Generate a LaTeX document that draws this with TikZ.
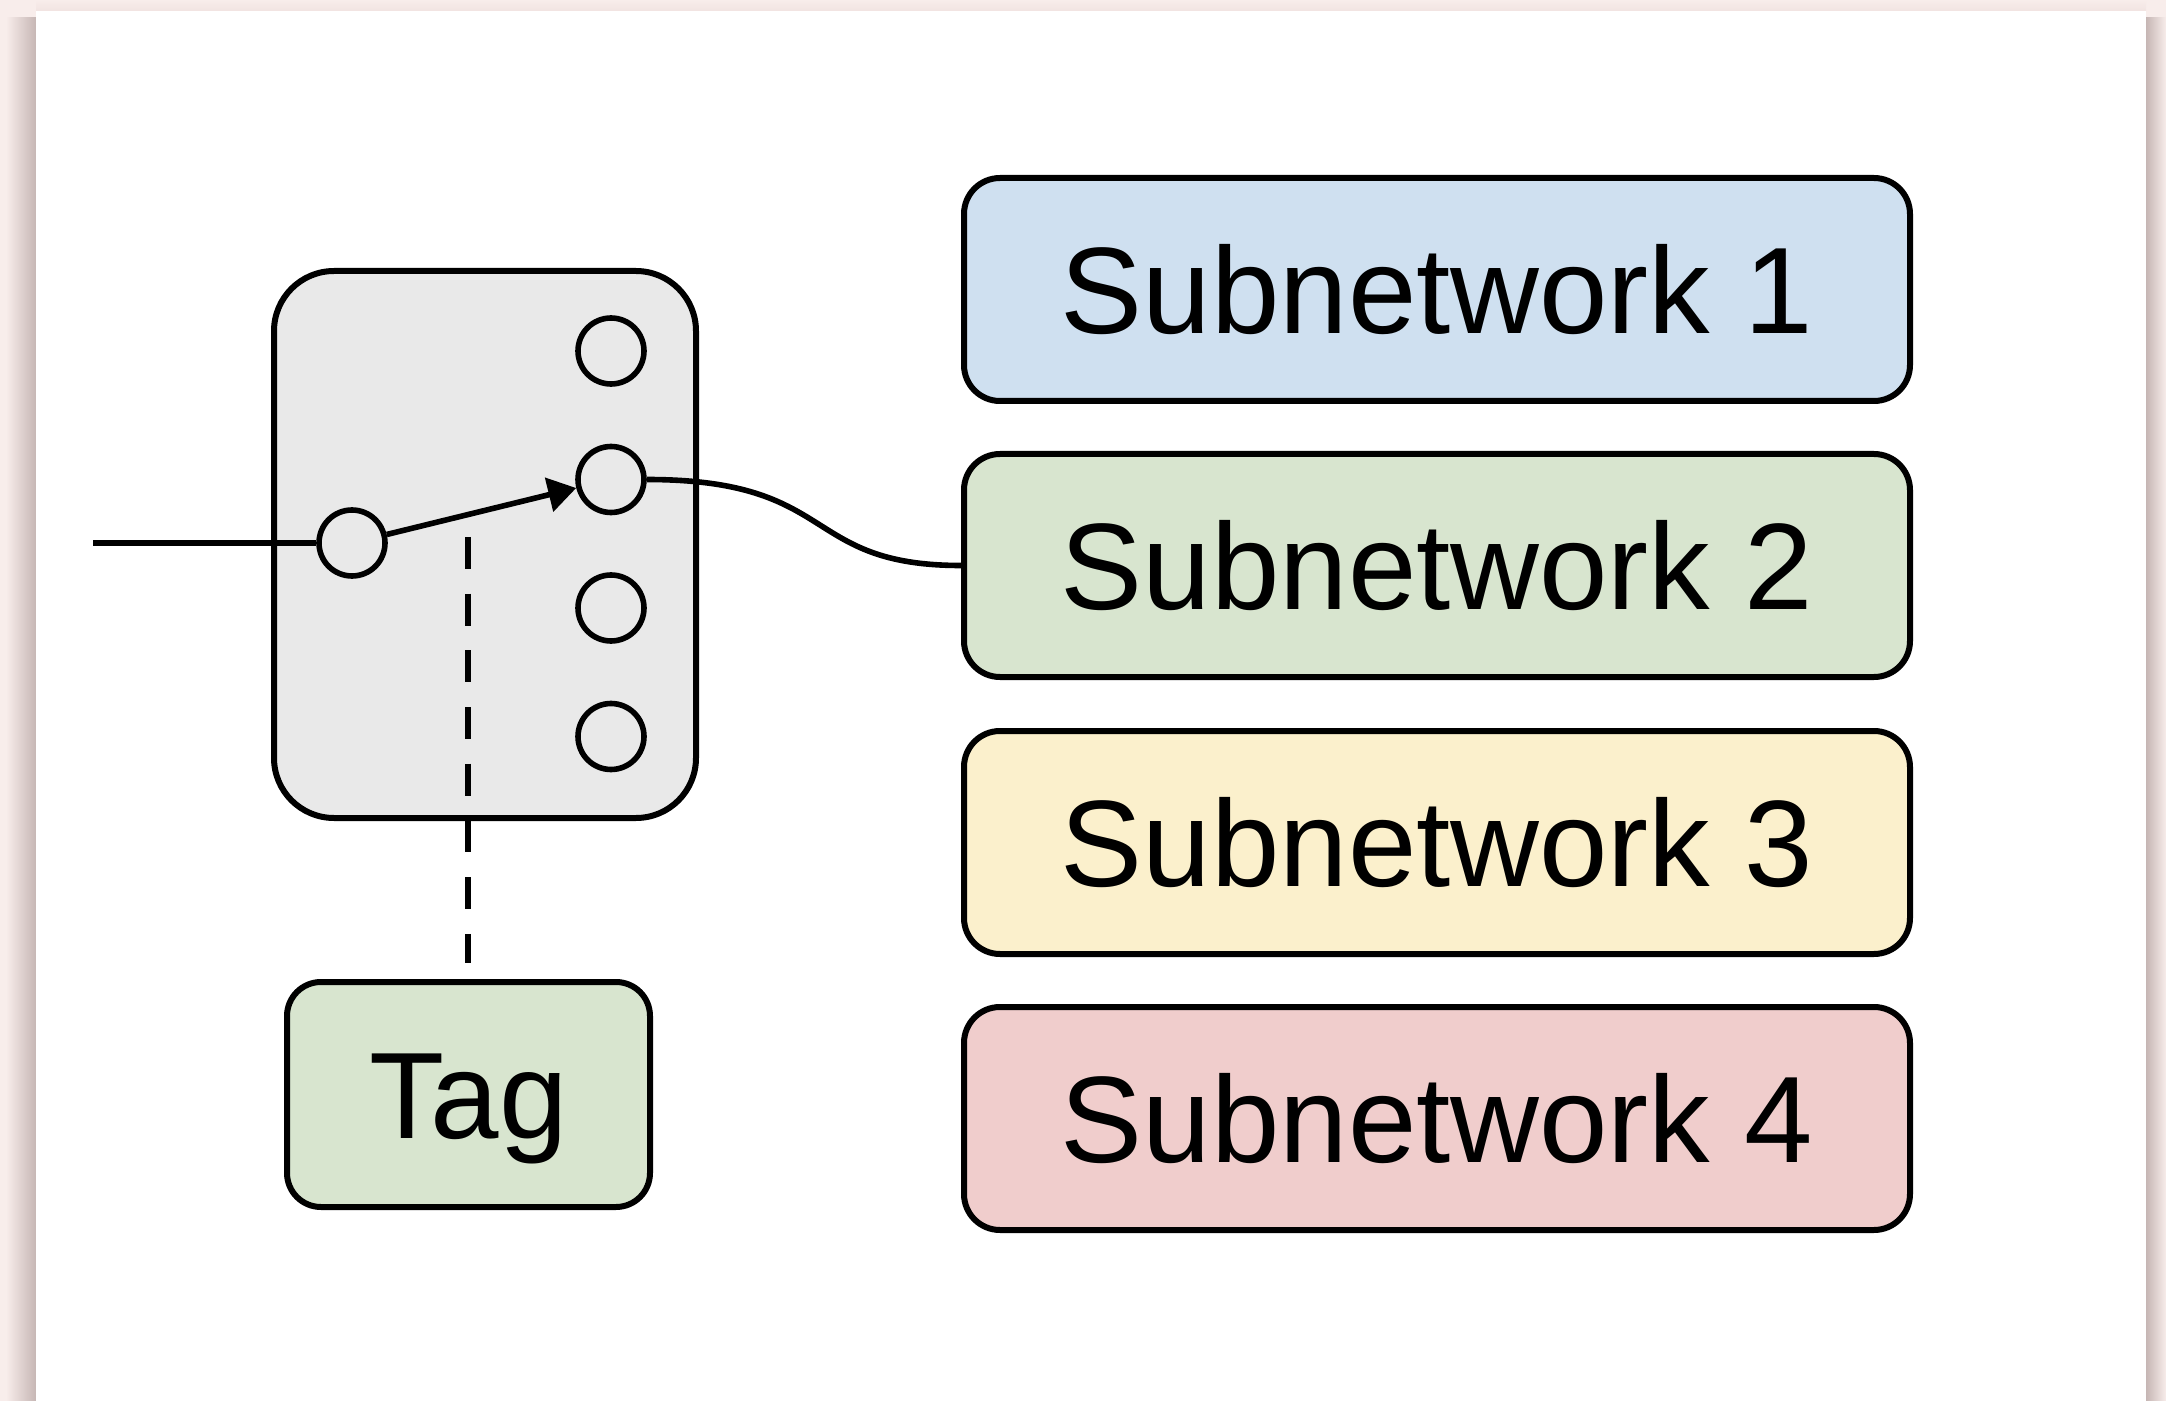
\documentclass[tikz,border=0pt]{standalone}
\usepackage{fontspec}
\setmainfont{Liberation Sans}
\usetikzlibrary{arrows.meta}

\definecolor{pagebg}{HTML}{F8EDEB}
\definecolor{shadowcol}{HTML}{C6B6B4}
\definecolor{shadowtop}{HTML}{F1E3E1}
\definecolor{switchfill}{HTML}{E9E9E9}
\definecolor{sna}{HTML}{CFE0F0}
\definecolor{snb}{HTML}{D8E5CF}
\definecolor{snc}{HTML}{FBF0CC}
\definecolor{snd}{HTML}{F0CDCC}

\tikzset{
  boxline/.style={draw=black, line width=1.5pt},
  switchbox/.style={boxline, fill=switchfill, rounded corners=15pt,
    minimum width=105.5pt, minimum height=136.75pt, inner sep=0pt},
  port/.style={circle, draw=black, line width=1.4pt, fill=switchfill,
    minimum size=16.5pt, inner sep=0pt},
  label text/.style={font=\fontsize{30.75pt}{36pt}\selectfont,
    text height=22pt, text depth=0pt, inner sep=0pt},
  subnet/.style={boxline, label text, rounded corners=9pt,
    minimum width=236.5pt, minimum height=55.75pt},
  tagbox/.style={boxline, label text, fill=snb, rounded corners=8.5pt,
    minimum width=90.75pt, minimum height=56.25pt},
  wire/.style={draw=black, line width=1.4pt},
  tagline/.style={wire, dash pattern=on 8pt off 6.17pt}
}

\begin{document}
\begin{tikzpicture}[x=0.25pt, y=-0.25pt]
  \useasboundingbox (0,0) rectangle (2166,1401);

  % page backdrop with a soft shadow around the white sheet
  \fill[pagebg] (0,0) rectangle (2166,1401);
  \shade[left color=pagebg, right color=shadowcol] (6,18) rectangle (36,1401);
  \shade[left color=shadowcol, right color=pagebg] (2146,18) rectangle (2166,1401);
  \shade[top color=pagebg, bottom color=shadowtop] (36,0) rectangle (2146,11);
  \fill[white] (36,11) rectangle (2146,1401);

  % switch with its input port and four output ports
  \node[switchbox] (sw) at (485,544.5) {};
  \node[port] (pin) at (352,543) {};
  \node[port] (p1) at (611,351) {};
  \node[port] (p2) at (611,479.5) {};
  \node[port] (p3) at (611,608) {};
  \node[port] (p4) at (611,736.5) {};

  % subnetworks
  \node[subnet, fill=sna] (s1) at (1437,289.5) {Subnetwork 1};
  \node[subnet, fill=snb] (s2) at (1437,565.5) {Subnetwork 2};
  \node[subnet, fill=snc] (s3) at (1437,842.5) {Subnetwork 3};
  \node[subnet, fill=snd] (s4) at (1437,1118.5) {Subnetwork 4};

  % tag that sets the switch position
  \node[tagbox] (tag) at (468.5,1094.5) {Tag};

  % connections
  \coordinate (src) at (93,543);
  \draw[wire] (src) -- (pin);
  \draw[wire, -{Triangle[length=7pt,width=8.5pt]}] (pin) -- (p2);
  \draw[wire] (p2.east) .. controls (840,479.5) and (800,565.5) .. (s2.west);
  \coordinate (tap) at (468,537);
  \draw[tagline, shorten >=4pt] (tap) -- (tap |- tag.north);
\end{tikzpicture}
\end{document}
